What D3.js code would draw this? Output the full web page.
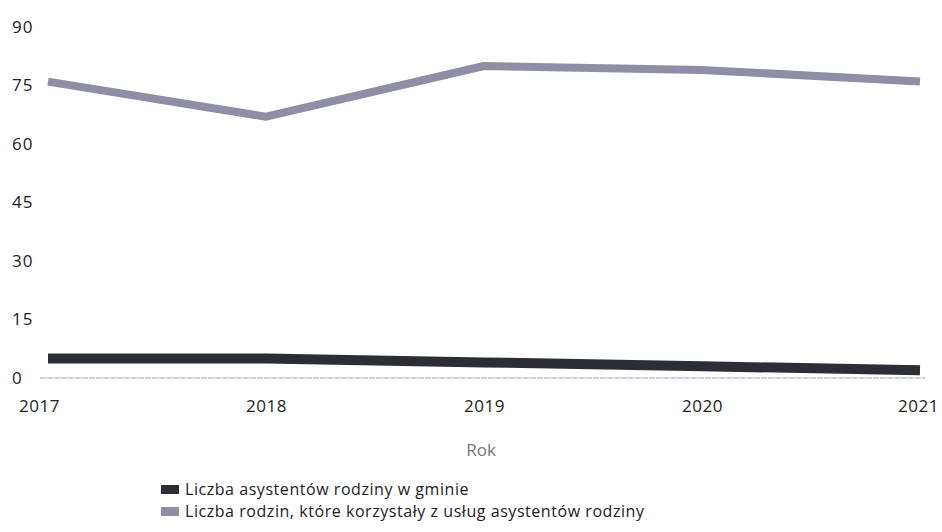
<!DOCTYPE html>
<html><head><meta charset="utf-8">
<script src="https://cdn.jsdelivr.net/npm/d3@7"></script>
<style>body{margin:0;background:#fff;} svg{display:block;}</style>
</head><body>
<svg id="c" width="942" height="532"></svg>
<script>
const years = [2017, 2018, 2019, 2020, 2021];
const assistants = [5, 5, 4, 3, 2];
const families = [76, 67, 80, 79, 76];
const yTicks = [0, 15, 30, 45, 60, 75, 90];
const seriesNames = ["Liczba asystentów rodziny w gminie", "Liczba rodzin, które korzystały z usług asystentów rodziny"];
const colors = ["#2b2e35", "#8e8ea6"];

const svg = d3.select("#c");
const font = "'Open Sans', 'Noto Sans', sans-serif";
const x = d3.scalePoint().domain(years).range([48, 920]);
const y = d3.scaleLinear().domain([0, 90]).range([378, 27]);

// y tick labels
const yAxis = d3.axisLeft(y).tickValues(yTicks).tickSize(0).tickPadding(0);
const gy = svg.append("g").attr("transform", "translate(12,0)").call(yAxis);
gy.select(".domain").remove();
gy.selectAll("text").attr("text-anchor", "start").attr("x", 0).attr("dy", "0.32em")
  .style("font-family", font).style("font-size", "17px").style("letter-spacing", "1px").attr("fill", "#222");

// baseline
svg.append("line").attr("x1", 40).attr("x2", 925).attr("y1", y(0)).attr("y2", y(0))
  .attr("stroke", "#bfbfc6").attr("stroke-width", 1.3).attr("stroke-dasharray", "6,1");

// x axis labels
const xAxis = d3.axisBottom(x).tickSize(0).tickPadding(0);
const gx = svg.append("g").attr("transform", "translate(0,400)").call(xAxis);
gx.select(".domain").remove();
gx.selectAll("text").attr("dy", "0.71em").style("font-family", font).style("font-size", "17px")
  .style("letter-spacing", "0.5px").attr("fill", "#222");
gx.selectAll(".tick").filter(d => d === 2017).select("text").attr("x", -9);
gx.selectAll(".tick").filter(d => d === 2021).select("text").attr("x", -2);

svg.append("text").attr("x", 481).attr("y", 456).attr("text-anchor", "middle")
  .style("font-family", font).style("font-size", "17px").attr("fill", "#777").text("Rok");

const line = d3.line().x((d, i) => x(years[i])).y(d => y(d));
svg.append("path").datum(families).attr("d", line).attr("fill", "none")
  .attr("stroke", colors[1]).attr("stroke-width", 8).attr("stroke-linejoin", "round");
svg.append("path").datum(assistants).attr("d", line).attr("fill", "none")
  .attr("stroke", colors[0]).attr("stroke-width", 10).attr("stroke-linejoin", "round");

// legend
const lg = svg.append("g").attr("transform", "translate(161,486)");
seriesNames.forEach((n, i) => {
  lg.append("rect").attr("x", 0).attr("y", i * 22 - 1).attr("width", 18).attr("height", 9).attr("fill", colors[i]);
  lg.append("text").attr("x", 24).attr("y", i * 22 + 9).style("font-family", font).style("font-size", "16px")
    .style("letter-spacing", "0.55px").attr("fill", "#222").text(n);
});
</script>
</body></html>
